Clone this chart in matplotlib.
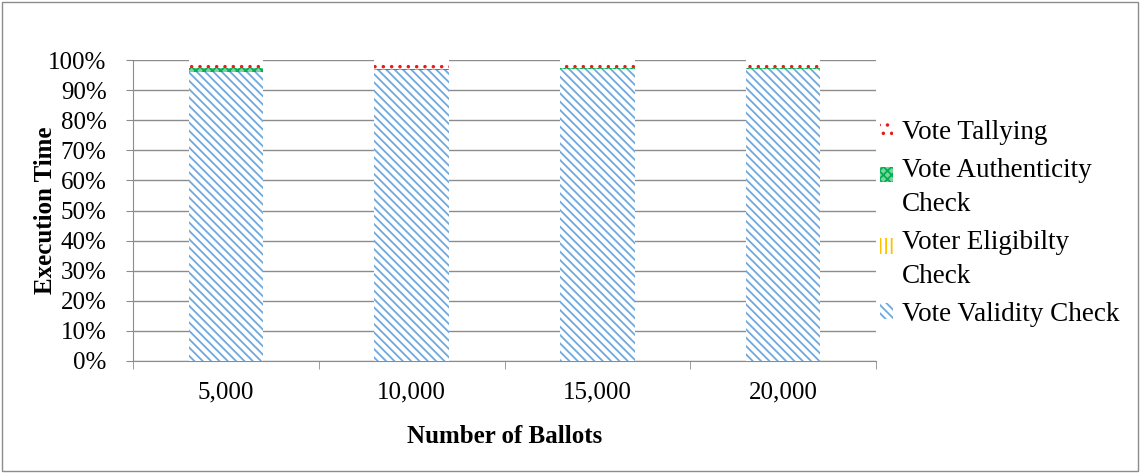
import numpy as np
import matplotlib.pyplot as plt
from matplotlib.patches import Rectangle
from matplotlib.ticker import PercentFormatter

plt.rcParams['font.family'] = ['Liberation Serif', 'DejaVu Serif']
plt.rcParams['hatch.linewidth'] = 1.3

ballots = ['5,000', '10,000', '15,000', '20,000']
# share of execution time per step (fraction of total)
validity = [0.960, 0.966, 0.970, 0.970]
eligibility = [0.001, 0.001, 0.001, 0.001]
authenticity = [0.012, 0.004, 0.002, 0.002]
tallying = [0.027, 0.029, 0.027, 0.027]

series = [
    ('Vote Validity Check', validity, 'white', '#6fa8dc', '\\\\\\\\'),
    ('Voter Eligibilty Check', eligibility, 'white', '#ffc000', '|||'),
    ('Vote Authenticity Check', authenticity, '#7fd3a0', '#00b050', 'xxxx'),
    ('Vote Tallying', tallying, 'white', '#e81c1c', '..'),
]

fig = plt.figure(figsize=(11.4, 4.73), dpi=100)
ax = fig.add_axes([0.1167, 0.2368, 0.6517, 0.6362])

x = np.arange(len(ballots))
bottom = np.zeros(len(ballots))
handles = []
for name, vals, face, hatch_col, hatch in series:
    b = ax.bar(x, vals, width=0.4, bottom=bottom, color=face, edgecolor=hatch_col,
               hatch=hatch, linewidth=0, label=name, zorder=3)
    handles.append(b)
    bottom += np.array(vals)

ax.set_xlim(-0.5, len(ballots) - 0.5)
ax.set_ylim(0, 1)
ax.set_yticks(np.linspace(0, 1, 11))
ax.yaxis.set_major_formatter(PercentFormatter(1.0, decimals=0))
ax.yaxis.grid(True, color='#8c8c8c', linewidth=1)
ax.set_axisbelow(True)

ax.set_xticks(x)
ax.set_xticklabels(ballots)
ax.set_xticks(np.arange(-0.5, len(ballots), 1), minor=True)
ax.tick_params(axis='x', which='major', length=0, pad=15, labelsize=18)
ax.tick_params(axis='x', which='minor', length=6, color='#8c8c8c', direction='out')
ax.tick_params(axis='y', length=5, color='#8c8c8c', labelsize=18, pad=14)

for side in ['top', 'right']:
    ax.spines[side].set_visible(False)
for side in ['left', 'bottom']:
    ax.spines[side].set_color('#8c8c8c')

ax.set_xlabel('Number of Ballots', fontsize=18, fontweight='bold', labelpad=15)
ax.set_ylabel('Execution Time', fontsize=18, fontweight='bold', labelpad=-6)

labels = ['Vote Tallying', 'Vote Authenticity\nCheck', 'Voter Eligibilty\nCheck', 'Vote Validity Check']
leg = fig.legend(handles[::-1], labels, loc='upper left', bbox_to_anchor=(0.760, 0.774),
                 frameon=False, fontsize=19.5, handlelength=0.5, handleheight=0.5,
                 handletextpad=0.3, labelspacing=0.48, borderpad=0)
for t in leg.get_texts():
    t.set_linespacing(1.45)
# keep the swatch beside the first line of two-line entries
for patch, lab in zip(leg.legend_handles, labels):
    if '\n' in lab:
        patch.set_y(patch.get_y() + 9.5)

# outer chart border
fig.patches.append(Rectangle((0.002, 0.004), 0.996, 0.992, transform=fig.transFigure,
                             fill=False, edgecolor='#8c8c8c', linewidth=1))

fig.savefig('out.png', dpi=100)
